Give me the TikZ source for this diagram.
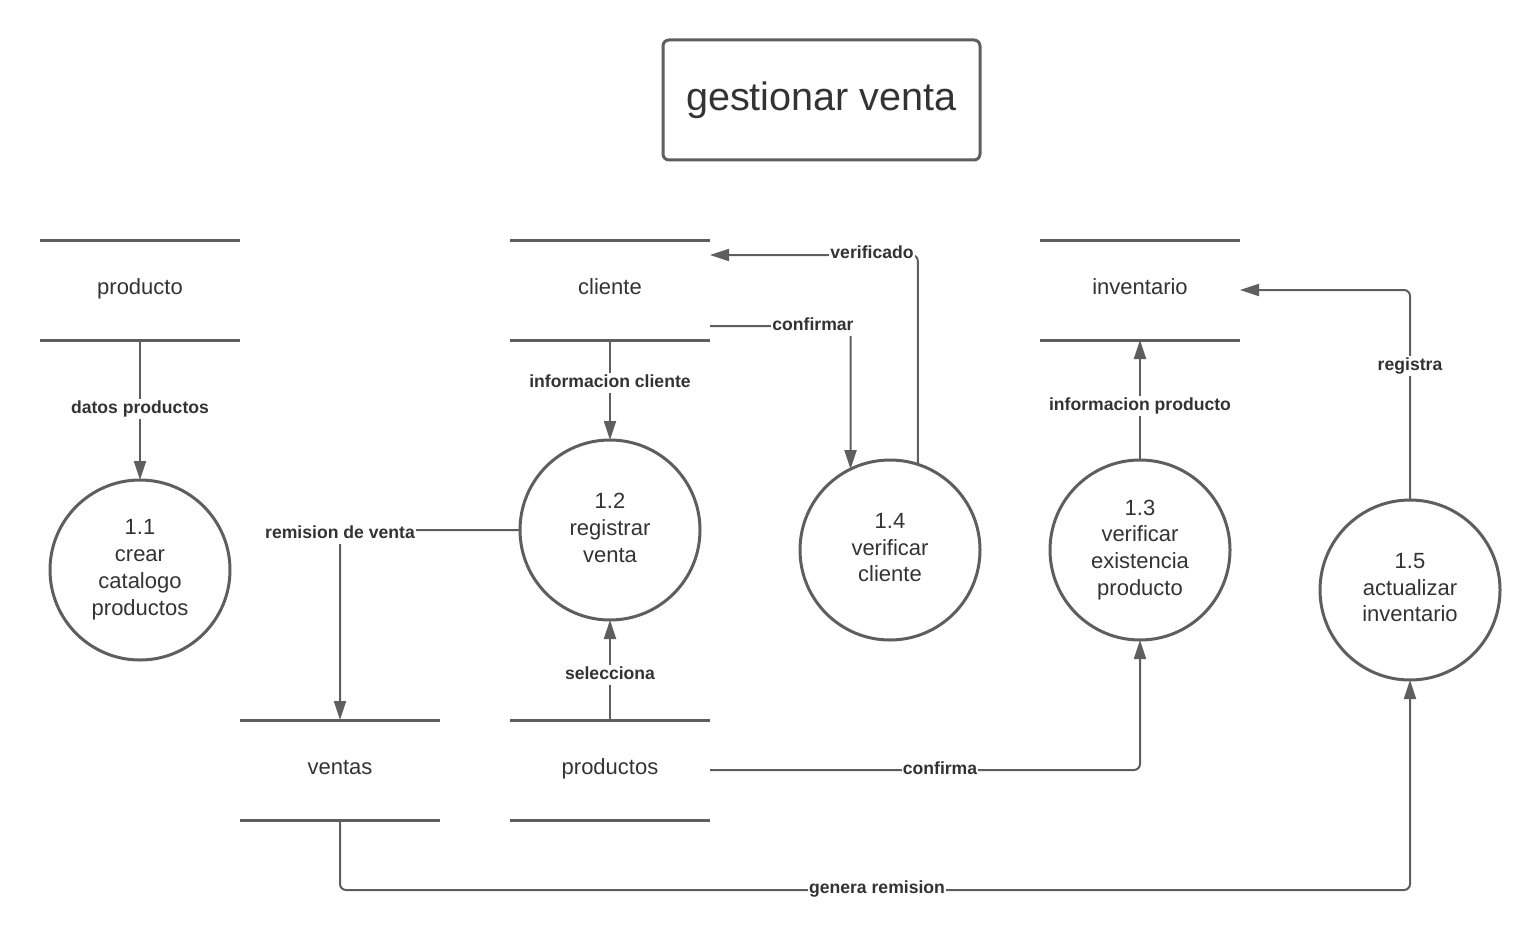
\documentclass[tikz,border=0pt]{standalone}
\usepackage{fontspec}
\setmainfont{Liberation Sans}
\usetikzlibrary{arrows.meta,calc}
\definecolor{ln}{HTML}{5E5E5E}
\definecolor{tx}{HTML}{333333}
\tikzset{
  proc/.style={circle,draw=ln,line width=1.5pt,minimum size=90pt,inner sep=0pt,outer sep=0pt,
    align=center,text=tx,text depth=2.4pt,font=\fontsize{11pt}{13.4pt}\selectfont},
  store/.style={rectangle,minimum width=100pt,minimum height=50pt,inner sep=0pt,outer sep=0pt,
    text=tx,text height=8pt,text depth=3.3pt,font=\fontsize{11pt}{13.4pt}\selectfont},
  storeline/.style={draw=ln,line width=1.5pt},
  flow/.style={draw=ln,line width=1pt,rounded corners=3pt,-{Triangle[length=9.5pt,width=6pt]}},
  lbl/.style={fill=white,inner sep=0.6pt,text=tx,text height=6.6pt,text depth=1.9pt,yshift=-1pt,
    font=\bfseries\fontsize{8.8pt}{10pt}\selectfont},
  titlebox/.style={rectangle,rounded corners=3pt,draw=ln,line width=1.5pt,minimum width=158.5pt,
    minimum height=60pt,text=tx,font=\fontsize{19.8pt}{24pt}\selectfont}
}
\begin{document}
\begin{tikzpicture}[x=0.5pt,y=-0.5pt]
\useasboundingbox (0,0) rectangle (1540,941);
\node[titlebox] (title) at (821.5,100) {gestionar venta};

% data stores
\node[store] (producto) at (140,290) {producto};
\node[store] (cliente) at (610,290) {cliente};
\node[store] (inventario) at (1140,290) {inventario};
\node[store] (ventas) at (340,770) {ventas};
\node[store] (productos) at (610,770) {productos};
\foreach \s in {producto,cliente,inventario,ventas,productos}{
  \draw[storeline] (\s.north west) -- (\s.north east);
  \draw[storeline] (\s.south west) -- (\s.south east);
}

% processes
\node[proc] (c11) at (140,570) {1.1\\crear\\catalogo\\productos};
\node[proc] (c12) at (610,530) {1.2\\registrar\\venta};
\node[proc] (c14) at (890,550) {1.4\\verificar\\cliente};
\node[proc] (c13) at (1140,550) {1.3\\verificar\\existencia\\producto};
\node[proc] (c15) at (1410,590) {1.5\\actualizar\\inventario};

% helper coordinates
\coordinate (clout) at (710,326);
\coordinate (clin) at (710,255);
\coordinate (invin) at (1240,290);
\coordinate (prout) at (710,770);

% flows
\draw[flow] (producto.south) -- (c11.north);
\node[lbl] (l1) at (140,407) {datos productos};

\draw[flow] (cliente.south) -- (c12.north);
\node[lbl] (l2) at (610,381) {informacion cliente};

\draw[flow] (clout) -| (c14.116);
\node[lbl] (l3) at (813,324) {confirmar};

\draw[flow] (c14.72) |- (clin);
\node[lbl] (l4) at (872,252) {verificado};

\draw[flow] (c13.north) -- (inventario.south);
\node[lbl] (l5) at (1140,404) {informacion producto};

\draw[flow] (c15.north) |- (invin);
\node[lbl] (l6) at (1410,364) {registra};

\draw[flow] (c12.west) -| (ventas.north);
\node[lbl] (l7) at (340,532) {remision de venta};

\draw[flow] (productos.north) -- (c12.south);
\node[lbl] (l8) at (610,673) {selecciona};

\draw[flow] (prout) -| (c13.south);
\node[lbl] (l9) at (940,768) {confirma};

\draw[flow] (ventas.south) -- ++(0,70) -| (c15.south);
\node[lbl] (l10) at (877,887) {genera remision};
\end{tikzpicture}
\end{document}
